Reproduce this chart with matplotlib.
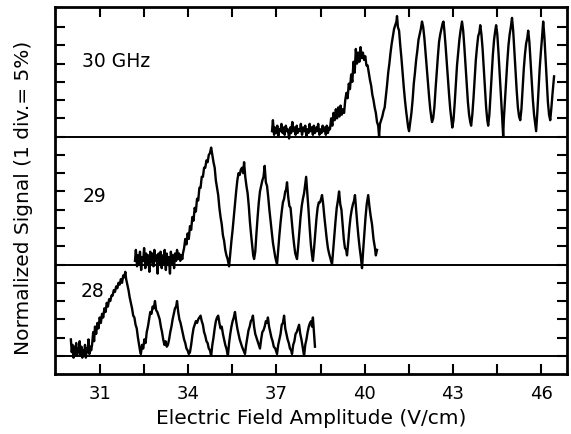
import numpy as np
import matplotlib
matplotlib.use("Agg")
import matplotlib.pyplot as plt

# Traces: (field in V/cm, signal in divisions above the trace's own baseline)
trace30 = [
    (36.85, 0.3), (36.88, 0.9), (36.92, 0.1), (36.95, 0.5), (36.99, 0.2), (37.03, 0.6),
    (37.06, 0.0), (37.10, 0.4), (37.14, 0.3), (37.17, 0.7), (37.21, 0.2), (37.25, 0.5),
    (37.28, 0.1), (37.32, 0.6), (37.36, 0.3), (37.39, 0.4), (37.43, -0.1), (37.47, 0.5),
    (37.50, 0.2), (37.54, 0.8), (37.58, 0.3), (37.61, 0.5), (37.65, 0.1), (37.69, 0.6),
    (37.72, 0.2), (37.76, 0.4), (37.80, 0.3), (37.83, 0.7), (37.87, 0.1), (37.91, 0.5),
    (37.94, 0.3), (37.98, 0.6), (38.02, 0.0), (38.05, 0.4), (38.09, 0.2), (38.13, 0.7),
    (38.16, 0.3), (38.20, 0.5), (38.24, 0.1), (38.27, 0.6), (38.31, 0.2), (38.35, 0.5),
    (38.38, 0.3), (38.42, 0.7), (38.46, 0.1), (38.49, 0.4), (38.53, 0.2), (38.57, 0.6),
    (38.60, 0.3), (38.64, 0.5), (38.68, 0.1), (38.71, 0.6), (38.75, 0.2), (38.79, 0.5),
    (38.82, 0.4), (38.86, 1.0), (38.90, 0.6), (38.94, 1.3), (38.98, 0.9), (39.02, 1.5),
    (39.06, 1.0), (39.10, 1.6), (39.14, 1.1), (39.18, 1.7), (39.22, 1.2), (39.26, 1.5),
    (39.30, 1.3), (39.34, 2.0), (39.38, 2.4), (39.42, 2.1), (39.46, 2.9), (39.50, 2.6),
    (39.54, 3.4), (39.58, 3.0), (39.62, 4.1), (39.66, 3.5), (39.70, 4.8), (39.74, 4.0),
    (39.78, 4.6), (39.82, 4.1), (39.86, 4.9), (39.90, 4.3), (39.94, 4.6), (39.98, 4.2),
    (40.02, 4.4), (40.06, 3.9), (40.10, 3.9), (40.14, 3.5), (40.18, 3.1), (40.22, 2.8),
    (40.26, 2.3), (40.30, 2.0), (40.34, 1.6), (40.38, 1.3), (40.42, 0.8), (40.46, 0.6),
    (40.49, 0.0), (40.52, 0.7), (40.56, 0.9), (40.60, 1.1), (40.64, 1.4), (40.68, 1.6),
    (40.72, 2.2), (40.76, 2.8), (40.80, 3.5), (40.84, 4.0), (40.88, 4.6), (40.92, 5.1),
    (40.96, 5.5), (41.00, 5.9), (41.04, 6.1), (41.08, 6.3), (41.10, 6.6), (41.13, 6.0),
    (41.17, 5.8), (41.21, 5.0), (41.25, 4.3), (41.29, 3.5), (41.33, 2.7), (41.37, 2.0),
    (41.41, 1.4), (41.45, 0.9), (41.48, 0.5), (41.51, 0.3), (41.55, 0.8), (41.59, 1.3),
    (41.63, 2.0), (41.67, 2.9), (41.71, 3.5), (41.75, 4.2), (41.79, 4.7), (41.83, 5.3),
    (41.87, 5.6), (41.91, 5.9), (41.95, 6.3), (41.99, 6.0), (42.03, 5.4), (42.07, 4.6),
    (42.11, 3.8), (42.15, 3.0), (42.19, 2.2), (42.23, 1.5), (42.27, 1.0), (42.29, 0.8),
    (42.33, 1.0), (42.37, 1.6), (42.41, 2.6), (42.45, 3.5), (42.49, 4.4), (42.53, 5.2),
    (42.57, 5.6), (42.61, 5.9), (42.65, 6.2), (42.68, 6.3), (42.71, 5.8), (42.75, 5.0),
    (42.79, 4.1), (42.83, 3.2), (42.87, 2.3), (42.91, 1.5), (42.95, 0.9), (42.98, 0.5),
    (43.02, 0.9), (43.06, 1.8), (43.10, 2.9), (43.14, 3.9), (43.18, 4.6), (43.22, 5.3),
    (43.26, 5.8), (43.31, 6.3), (43.35, 5.8), (43.39, 4.9), (43.43, 3.9), (43.47, 2.9),
    (43.51, 1.9), (43.55, 1.2), (43.59, 0.8), (43.62, 0.6), (43.66, 1.2), (43.70, 2.1),
    (43.74, 3.2), (43.78, 4.2), (43.82, 4.9), (43.86, 5.5), (43.90, 5.7), (43.93, 6.1),
    (43.97, 5.6), (44.01, 4.8), (44.05, 3.7), (44.09, 2.6), (44.13, 1.6), (44.17, 0.9),
    (44.20, 0.6), (44.24, 1.2), (44.28, 2.3), (44.32, 3.4), (44.36, 4.5), (44.40, 5.3),
    (44.44, 5.8), (44.47, 6.1), (44.51, 5.6), (44.55, 4.6), (44.59, 3.5), (44.63, 2.3),
    (44.67, 1.2), (44.71, 0.0), (44.73, 0.9), (44.77, 2.0), (44.81, 3.2), (44.85, 4.1),
    (44.89, 5.0), (44.93, 5.6), (44.97, 6.0), (45.01, 6.5), (45.05, 5.8), (45.09, 4.7),
    (45.13, 3.6), (45.17, 2.5), (45.21, 1.6), (45.25, 1.1), (45.29, 0.9), (45.33, 1.5),
    (45.37, 2.6), (45.41, 3.7), (45.45, 4.5), (45.49, 5.1), (45.53, 5.4), (45.56, 5.8),
    (45.60, 5.2), (45.64, 4.1), (45.68, 3.0), (45.72, 2.0), (45.76, 1.2), (45.80, 0.7),
    (45.83, 0.3), (45.87, 1.3), (45.91, 2.5), (45.95, 3.7), (45.99, 4.6), (46.03, 5.4),
    (46.07, 6.3), (46.11, 5.5), (46.15, 4.3), (46.19, 3.0), (46.23, 1.9), (46.27, 1.2),
    (46.31, 0.9), (46.35, 1.6), (46.39, 2.4), (46.44, 3.3),
]

trace29 = [
    (32.19, 0.2), (32.22, 0.8), (32.26, -0.1), (32.29, 0.5), (32.33, 0.1), (32.36, 0.7),
    (32.40, -0.3), (32.43, 0.4), (32.47, 0.2), (32.50, 0.9), (32.54, -0.2), (32.57, 0.6),
    (32.61, 0.0), (32.64, 0.5), (32.68, -0.4), (32.71, 0.7), (32.75, 0.1), (32.78, 0.6),
    (32.82, -0.1), (32.85, 0.8), (32.89, 0.2), (32.92, 0.5), (32.96, -0.5), (32.99, 0.6),
    (33.03, 0.0), (33.06, 0.7), (33.10, -0.2), (33.13, 0.5), (33.17, 0.1), (33.20, 0.8),
    (33.24, -0.3), (33.27, 0.6), (33.31, 0.0), (33.34, 0.4), (33.38, -0.5), (33.41, 0.7),
    (33.45, 0.1), (33.48, 0.5), (33.52, -0.2), (33.55, 0.6), (33.59, 0.2), (33.62, 0.8),
    (33.66, 0.3), (33.69, 0.6), (33.73, 0.2), (33.76, 0.5), (33.80, 0.3), (33.82, 0.6),
    (33.86, 0.9), (33.90, 1.4), (33.94, 1.1), (33.98, 1.7), (34.02, 1.4), (34.06, 2.1),
    (34.10, 1.9), (34.14, 2.6), (34.18, 2.4), (34.22, 3.1), (34.26, 2.9), (34.30, 3.6),
    (34.34, 3.5), (34.38, 4.2), (34.42, 4.2), (34.46, 4.8), (34.50, 4.8), (34.54, 5.3),
    (34.58, 5.3), (34.62, 5.7), (34.66, 5.6), (34.70, 6.0), (34.74, 6.1), (34.78, 6.4),
    (34.82, 6.0), (34.86, 5.6), (34.90, 5.3), (34.94, 4.6), (34.98, 4.2), (35.02, 3.8),
    (35.06, 3.1), (35.10, 2.6), (35.14, 2.2), (35.18, 1.6), (35.22, 1.3), (35.26, 0.8),
    (35.30, 0.5), (35.34, 0.3), (35.39, -0.1), (35.43, 0.6), (35.47, 1.3), (35.51, 1.9),
    (35.55, 2.6), (35.59, 3.3), (35.63, 4.0), (35.67, 4.6), (35.71, 5.0), (35.75, 4.9),
    (35.79, 5.2), (35.83, 5.3), (35.87, 5.0), (35.90, 5.6), (35.94, 4.8), (35.98, 4.3),
    (36.02, 3.9), (36.06, 3.2), (36.10, 2.3), (36.14, 1.6), (36.18, 1.0), (36.21, 0.5),
    (36.24, 0.3), (36.28, 0.7), (36.32, 1.7), (36.36, 2.6), (36.40, 3.4), (36.44, 4.0),
    (36.48, 4.3), (36.52, 4.6), (36.56, 4.8), (36.60, 5.4), (36.64, 4.5), (36.68, 4.3),
    (36.72, 3.7), (36.76, 3.0), (36.80, 2.4), (36.84, 1.8), (36.88, 1.2), (36.92, 0.8),
    (36.96, 0.4), (37.02, 0.0), (37.06, 0.8), (37.10, 1.6), (37.14, 2.3), (37.18, 2.9),
    (37.22, 3.4), (37.26, 3.6), (37.30, 4.0), (37.33, 4.1), (37.36, 4.5), (37.40, 3.7),
    (37.44, 3.2), (37.48, 3.1), (37.52, 2.4), (37.56, 1.7), (37.60, 1.1), (37.64, 0.6),
    (37.70, 0.3), (37.74, 1.0), (37.78, 1.8), (37.82, 2.6), (37.86, 3.2), (37.90, 3.6),
    (37.94, 3.9), (37.98, 4.4), (38.01, 4.8), (38.05, 3.9), (38.09, 3.0), (38.13, 2.0),
    (38.17, 1.1), (38.21, 0.5), (38.24, 0.2), (38.28, 0.9), (38.32, 1.7), (38.36, 2.5),
    (38.40, 3.1), (38.44, 3.4), (38.48, 3.4), (38.52, 3.6), (38.55, 3.8), (38.59, 3.3),
    (38.63, 2.6), (38.67, 2.0), (38.71, 1.4), (38.75, 0.9), (38.79, 0.6), (38.84, 0.3),
    (38.89, 0.0), (38.93, 0.8), (38.97, 1.6), (39.01, 2.4), (39.05, 3.1), (39.09, 3.5),
    (39.13, 4.0), (39.17, 3.3), (39.21, 3.0), (39.25, 2.2), (39.29, 1.4), (39.33, 0.9),
    (39.37, 0.8), (39.40, 0.5), (39.44, 1.2), (39.48, 2.0), (39.52, 2.6), (39.56, 3.0),
    (39.60, 3.3), (39.64, 3.5), (39.67, 3.8), (39.71, 3.0), (39.75, 2.2), (39.79, 1.5),
    (39.83, 0.9), (39.87, 0.4), (39.91, -0.2), (39.95, 0.8), (39.99, 1.7), (40.03, 2.6),
    (40.07, 3.3), (40.12, 3.8), (40.16, 3.2), (40.20, 2.7), (40.25, 2.2), (40.30, 1.4),
    (40.35, 0.9), (40.38, 0.5), (40.42, 0.8),
]

trace28 = [
    (30.01, 0.9), (30.04, 0.2), (30.07, 0.6), (30.10, -0.1), (30.13, 0.5), (30.16, 0.1),
    (30.19, 0.7), (30.22, 0.0), (30.25, 0.4), (30.28, 0.2), (30.31, 0.8), (30.34, 0.0),
    (30.37, 0.5), (30.40, -0.1), (30.43, 0.3), (30.46, 0.1), (30.49, 0.6), (30.52, -0.1),
    (30.55, 0.4), (30.58, 0.2), (30.61, 0.9), (30.64, 0.1), (30.67, 0.5), (30.70, 0.3),
    (30.73, 0.6), (30.77, 1.3), (30.80, 0.8), (30.83, 1.6), (30.87, 1.2), (30.91, 1.8),
    (30.95, 1.5), (30.99, 2.1), (31.03, 1.8), (31.07, 2.3), (31.11, 2.1), (31.15, 2.6),
    (31.19, 2.4), (31.23, 2.9), (31.27, 2.7), (31.31, 3.1), (31.35, 3.0), (31.39, 3.3),
    (31.43, 3.3), (31.47, 3.6), (31.51, 3.5), (31.55, 3.8), (31.59, 3.7), (31.63, 4.0),
    (31.67, 3.9), (31.71, 4.2), (31.75, 4.0), (31.79, 4.4), (31.83, 4.3), (31.86, 4.6),
    (31.89, 4.2), (31.93, 3.9), (31.97, 3.6), (32.01, 3.2), (32.05, 2.9), (32.09, 2.6),
    (32.13, 2.2), (32.17, 2.1), (32.21, 1.7), (32.25, 1.5), (32.29, 1.0), (32.33, 0.6),
    (32.36, 0.3), (32.39, 0.1), (32.43, 0.6), (32.47, 0.4), (32.51, 0.9), (32.55, 0.7),
    (32.59, 1.3), (32.63, 1.6), (32.67, 2.0), (32.71, 2.4), (32.75, 2.3), (32.79, 2.7),
    (32.83, 2.6), (32.87, 3.0), (32.91, 2.5), (32.95, 2.4), (32.99, 2.2), (33.03, 2.0),
    (33.07, 1.6), (33.11, 1.3), (33.15, 0.9), (33.19, 0.6), (33.23, 0.8), (33.27, 0.5),
    (33.31, 0.6), (33.35, 0.9), (33.39, 1.3), (33.43, 1.6), (33.47, 2.0), (33.51, 2.3),
    (33.55, 2.6), (33.59, 2.7), (33.62, 3.0), (33.66, 2.4), (33.70, 2.0), (33.74, 1.8),
    (33.78, 1.5), (33.82, 1.2), (33.86, 0.9), (33.90, 0.7), (33.94, 0.4), (33.98, 0.3),
    (34.02, 0.1), (34.06, 0.2), (34.10, 0.6), (34.14, 1.1), (34.18, 1.5), (34.22, 1.7),
    (34.26, 1.9), (34.30, 1.8), (34.34, 2.0), (34.38, 2.1), (34.42, 2.2), (34.46, 1.9),
    (34.50, 1.7), (34.54, 1.3), (34.58, 1.1), (34.62, 0.8), (34.66, 0.7), (34.70, 0.4),
    (34.74, 0.3), (34.78, 0.0), (34.82, 0.6), (34.86, 1.0), (34.90, 1.5), (34.94, 1.9),
    (34.98, 2.1), (35.02, 2.2), (35.06, 1.8), (35.10, 1.5), (35.14, 1.6), (35.18, 1.2),
    (35.22, 0.9), (35.26, 0.6), (35.30, 0.4), (35.35, 0.0), (35.39, 0.7), (35.43, 1.2),
    (35.47, 1.6), (35.51, 1.9), (35.55, 2.1), (35.59, 2.4), (35.63, 1.9), (35.67, 1.5),
    (35.71, 1.2), (35.75, 0.9), (35.79, 0.7), (35.83, 0.5), (35.88, 0.3), (35.93, 0.1),
    (35.97, 0.6), (36.01, 1.0), (36.05, 1.4), (36.09, 1.6), (36.13, 1.9), (36.17, 2.0),
    (36.20, 2.2), (36.24, 1.6), (36.28, 1.2), (36.32, 1.0), (36.36, 0.8), (36.40, 0.6),
    (36.44, 0.4), (36.48, 0.9), (36.52, 1.3), (36.56, 1.4), (36.60, 1.6), (36.64, 1.9),
    (36.68, 1.8), (36.71, 2.1), (36.75, 1.6), (36.79, 1.3), (36.83, 1.0), (36.87, 0.8),
    (36.91, 0.5), (36.96, 0.4), (37.02, 0.1), (37.06, 0.6), (37.10, 0.9), (37.14, 1.2),
    (37.18, 1.7), (37.22, 1.8), (37.26, 2.2), (37.30, 1.5), (37.34, 1.2), (37.38, 0.9),
    (37.42, 0.7), (37.46, 0.4), (37.50, 0.3), (37.53, 0.1), (37.57, 0.6), (37.61, 0.8),
    (37.65, 1.2), (37.69, 1.3), (37.73, 1.5), (37.77, 1.7), (37.81, 1.2), (37.85, 0.9),
    (37.89, 0.5), (37.94, 0.0), (37.98, 0.6), (38.02, 0.9), (38.06, 1.3), (38.10, 1.6),
    (38.14, 1.8), (38.18, 1.9), (38.21, 1.6), (38.24, 2.1), (38.28, 1.2), (38.31, 0.5),
]

labels = ["30 GHz", "29", "28"]
baselines = [13, 6, 1]  # trace offsets, in divisions
xticks = [31, 34, 37, 40, 43, 46]

fig = plt.figure(figsize=(5.71, 4.34), dpi=100)
ax = fig.add_axes([0.0963, 0.138, 0.8967, 0.846])

for tr, base in zip([trace30, trace29, trace28], baselines):
    arr = np.array(tr)
    ax.plot(arr[:, 0], arr[:, 1] + base, color="black", lw=1.7)
    ax.axhline(base, color="black", lw=1.4)

# curve labels
ax.text(30.40, 17.1, labels[0], fontsize=13.5, va="center", ha="left")
ax.text(30.40, 9.75, labels[1], fontsize=13.5, va="center", ha="left")
ax.text(30.35, 4.5, labels[2], fontsize=13.5, va="center", ha="left")

ax.set_xlim(29.47, 46.88)
ax.set_ylim(0, 20.1)
ax.set_xticks(xticks)
ax.set_xticks(np.arange(32.5, 46, 3), minor=True)
ax.set_yticks(np.arange(1, 20))
ax.set_yticklabels([])

for which in ["major", "minor"]:
    ax.tick_params(axis="both", which=which, direction="in", length=7, width=1.5,
                   top=True, right=True, labelsize=13, pad=8)

for sp in ax.spines.values():
    sp.set_linewidth(2)

ax.set_xlabel("Electric Field Amplitude (V/cm)", fontsize=14.5, labelpad=4)
ax.set_ylabel("Normalized Signal (1 div.= 5%)", fontsize=14.5)
ax.yaxis.set_label_coords(-0.043, 0.48)

fig.savefig("out.png", dpi=100)
